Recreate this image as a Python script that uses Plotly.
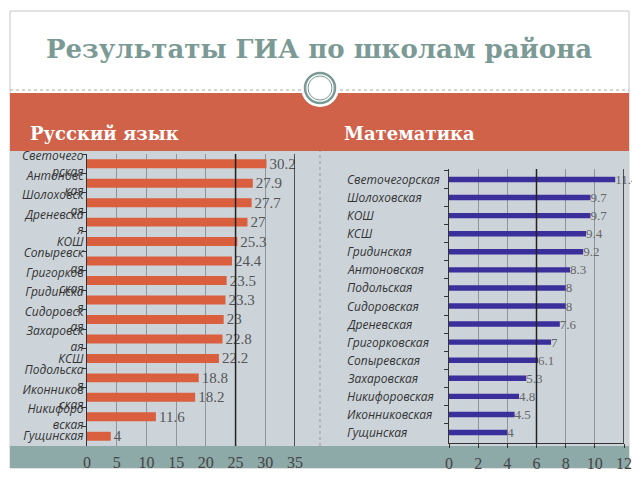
import plotly.graph_objects as go

# Русский язык
rus_schools = ["Светочего<br>рская", "Антоновс<br>кая", "Шолоховск<br>ая", "Дреневска<br>я", "КОШ",
               "Сопыревск<br>ая", "Григорков<br>ская", "Гридинска<br>я", "Сидоровск<br>ая", "Захаровск<br>ая",
               "КСШ", "Подольска<br>я", "Иконников<br>ская", "Никифоро<br>вская", "Гущинская"]
rus_scores = [30.2, 27.9, 27.7, 27, 25.3, 24.4, 23.5, 23.3, 23, 22.8, 22.2, 18.8, 18.2, 11.6, 4]

# Математика
math_schools = ["Светочегорская", "Шолоховская", "КОШ", "КСШ", "Гридинская", "Антоновская",
                "Подольская", "Сидоровская", "Дреневская", "Григорковская", "Сопыревская",
                "Захаровская", "Никифоровская", "Иконниковская", "Гущинская"]
math_scores = [11.4, 9.7, 9.7, 9.4, 9.2, 8.3, 8, 8, 7.6, 7, 6.1, 5.3, 4.8, 4.5, 4]

# страница имеет отступ 8px, поэтому фигура чуть меньше окна
OX, OY = 8, 8
W, H = 632, 472
def px(x): return (x - OX) / W
def py(y): return 1 - (y - OY) / H

RED = "#D0624A"
BG = "#CCD4DA"
TEAL = "#8DA9A8"
TITLE = "#7B9A95"
SERIF = "DejaVu Serif"
SANS = "Open Sans"

fig = go.Figure()

fig.add_trace(go.Bar(
    x=rus_scores, y=rus_schools, orientation="h",
    marker=dict(color="#DA5F3E", line=dict(width=0)),
    width=0.46,
    text=[str(v) for v in rus_scores], textposition="outside",
    textfont=dict(family="Liberation Serif", size=15, color="#555555"),
    constraintext="none", cliponaxis=False,
    xaxis="x", yaxis="y", showlegend=False,
))

fig.add_trace(go.Bar(
    x=math_scores, y=math_schools, orientation="h",
    marker=dict(color="#3B2F9C", line=dict(width=0)),
    width=0.3,
    text=[str(v) for v in math_scores], textposition="outside",
    textfont=dict(family="Liberation Serif", size=13, color="#666666"),
    constraintext="none", cliponaxis=False,
    xaxis="x2", yaxis="y2", showlegend=False,
))

# подписи школ для математики (выровнены влево)
for s in math_schools:
    fig.add_annotation(x=px(345), xref="paper", y=s, yref="y2", text=s, showarrow=False,
                       xanchor="left", yanchor="middle",
                       font=dict(family=SANS, size=12, color="#333333", style="italic"))

shapes = [
    # рамка слайда
    dict(type="rect", xref="paper", yref="paper", x0=px(10), x1=px(629), y0=py(468), y1=py(11),
         line=dict(color="#C8C8C8", width=1), layer="below"),
    dict(type="rect", xref="paper", yref="paper", x0=px(10), x1=px(629), y0=py(151), y1=py(93),
         fillcolor=RED, line=dict(width=0), layer="below"),
    dict(type="rect", xref="paper", yref="paper", x0=px(10), x1=px(629), y0=py(446), y1=py(151),
         fillcolor=BG, line=dict(width=0), layer="below"),
    dict(type="rect", xref="paper", yref="paper", x0=px(10), x1=px(629), y0=py(468), y1=py(446),
         fillcolor=TEAL, line=dict(width=0), layer="below"),
    dict(type="line", xref="paper", yref="paper", x0=px(10), x1=px(629), y0=py(90), y1=py(90),
         line=dict(color="#AAAAAA", width=1, dash="dot"), layer="below"),
    dict(type="line", xref="paper", yref="paper", x0=px(320), x1=px(320), y0=py(446), y1=py(151),
         line=dict(color="#999999", width=1, dash="dot"), layer="below"),
    dict(type="circle", xref="paper", yref="paper", x0=px(301), x1=px(339), y0=py(107), y1=py(69),
         fillcolor="white", line=dict(width=0), layer="below"),
    dict(type="circle", xref="paper", yref="paper", x0=px(305), x1=px(335), y0=py(103), y1=py(73),
         line=dict(color=TITLE, width=2.5), layer="below"),
    dict(type="circle", xref="paper", yref="paper", x0=px(308), x1=px(332), y0=py(100), y1=py(76),
         line=dict(color=TITLE, width=1), layer="below"),
    # тёмные линии сетки
    dict(type="line", xref="x", yref="y domain", x0=25, x1=25, y0=0, y1=1, line=dict(color="#222222", width=1.5)),
    dict(type="line", xref="x", yref="y domain", x0=35, x1=35, y0=0, y1=1, line=dict(color="#222222", width=1.5)),
    dict(type="line", xref="x2", yref="y2 domain", x0=6, x1=6, y0=0, y1=1, line=dict(color="#222222", width=1.5)),
    dict(type="line", xref="x2", yref="y2 domain", x0=12, x1=12, y0=0, y1=1, line=dict(color="#222222", width=1.5)),
]

annotations = [
    dict(x=px(319), y=py(49), xref="paper", yref="paper", text="<b>Результаты ГИА по школам района</b>",
         showarrow=False, xanchor="center", yanchor="middle", font=dict(family=SERIF, size=26, color=TITLE)),
    dict(x=px(28), y=py(133), xref="paper", yref="paper", text="<b>Русский язык</b>", xanchor="left",
         yanchor="middle", showarrow=False, font=dict(family=SERIF, size=18, color="white")),
    dict(x=px(342), y=py(133), xref="paper", yref="paper", text="<b>Математика</b>", xanchor="left",
         yanchor="middle", showarrow=False, font=dict(family=SERIF, size=18, color="white")),
]

fig.update_layout(
    width=W, height=H,
    margin=dict(l=0, r=0, t=0, b=0, autoexpand=False),
    paper_bgcolor="white", plot_bgcolor="rgba(0,0,0,0)",
    bargap=0.5,
    shapes=shapes,
    annotations=list(fig.layout.annotations) + annotations,
    xaxis=dict(domain=[px(87), px(295)], range=[0, 35], dtick=5, showgrid=True, gridcolor="#8E969C",
               gridwidth=1, zeroline=False, showline=False, ticks="", automargin=False,
               tickfont=dict(family="Liberation Serif", size=16, color="#444444"), ticklabelstandoff=5),
    yaxis=dict(domain=[py(446), py(154)], autorange="reversed", showline=True, linecolor="#333333",
               ticks="outside", ticklen=4, tickcolor="#333333", tickson="boundaries", showgrid=False,
               automargin=False,
               tickfont=dict(family=SANS, size=12, color="#333333", style="italic")),
    xaxis2=dict(domain=[px(449), px(624)], range=[0, 12], dtick=2, showgrid=True, gridcolor="#8E969C",
                anchor="y2", zeroline=False, showline=True, linecolor="#333333", ticks="outside",
                ticklen=4, tickcolor="#333333", automargin=False,
                tickfont=dict(family="Liberation Serif", size=16, color="#444444"), ticklabelstandoff=2),
    yaxis2=dict(domain=[py(443), py(169)], anchor="x2", autorange="reversed", showline=True,
                linecolor="#333333", ticks="outside", ticklen=4, tickcolor="#333333", automargin=False,
                tickson="boundaries", showticklabels=False, showgrid=False),
)

fig.write_html("out.html")
